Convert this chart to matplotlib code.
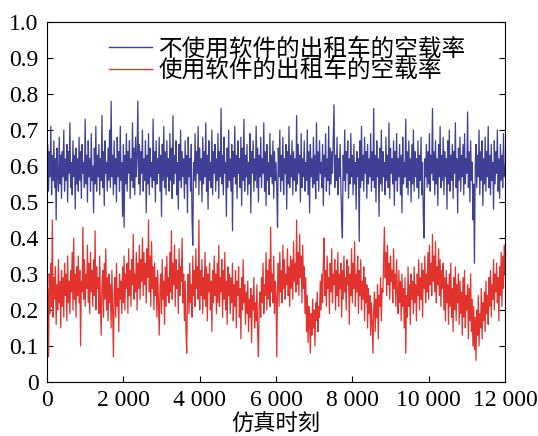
import numpy as np
import matplotlib
matplotlib.use("Agg")
import matplotlib.pyplot as plt

# empty-load rate sampled every 20 simulation steps, 0 .. 12000
no_app = [
0.55,0.66,0.53,0.64,0.57,0.71,0.52,0.63,0.56,0.67,0.54,0.62,0.45,0.65,0.58,0.53,0.68,0.55,0.63,0.51,
0.64,0.57,0.70,0.53,0.62,0.56,0.66,0.50,0.64,0.58,0.72,0.54,0.61,0.52,0.67,0.57,0.63,0.48,0.65,0.55,
0.62,0.53,0.68,0.56,0.64,0.51,0.66,0.58,0.61,0.54,0.73,0.55,0.63,0.50,0.67,0.57,0.62,0.53,0.69,0.56,
0.60,0.47,0.65,0.55,0.71,0.53,0.63,0.57,0.66,0.52,0.62,0.56,0.74,0.54,0.64,0.49,0.67,0.58,0.61,0.53,
0.65,0.56,0.70,0.54,0.78,0.57,0.63,0.52,0.67,0.55,0.62,0.50,0.68,0.57,0.64,0.53,0.71,0.56,0.61,0.46,
0.66,0.43,0.63,0.55,0.69,0.53,0.64,0.58,0.67,0.51,0.62,0.56,0.72,0.54,0.65,0.52,0.68,0.57,0.63,0.78,
0.55,0.66,0.52,0.64,0.58,0.70,0.53,0.62,0.56,0.67,0.47,0.63,0.55,0.69,0.52,0.65,0.57,0.61,0.54,0.73,
0.56,0.64,0.50,0.67,0.55,0.62,0.58,0.68,0.53,0.63,0.46,0.66,0.56,0.71,0.54,0.64,0.52,0.67,0.57,0.62,
0.53,0.69,0.56,0.65,0.51,0.74,0.55,0.63,0.58,0.67,0.52,0.61,0.48,0.66,0.56,0.70,0.54,0.64,0.57,0.62,
0.51,0.67,0.55,0.63,0.47,0.68,0.57,0.62,0.53,0.66,0.45,0.38,0.61,0.56,0.69,0.54,0.64,0.58,0.71,0.52,
0.65,0.56,0.62,0.50,0.68,0.55,0.64,0.57,0.72,0.53,0.63,0.48,0.67,0.56,0.61,0.54,0.70,0.52,0.64,0.58,
0.66,0.53,0.62,0.56,0.69,0.51,0.64,0.57,0.76,0.55,0.63,0.52,0.68,0.58,0.61,0.46,0.65,0.54,0.70,0.56,
0.62,0.53,0.66,0.42,0.64,0.57,0.71,0.55,0.63,0.51,0.67,0.58,0.62,0.54,0.68,0.49,0.65,0.56,0.73,0.53,
0.63,0.57,0.66,0.52,0.61,0.55,0.69,0.47,0.64,0.58,0.67,0.53,0.62,0.56,0.71,0.54,0.65,0.50,0.63,0.57,
0.68,0.54,0.62,0.58,0.72,0.53,0.64,0.49,0.66,0.56,0.61,0.52,0.69,0.57,0.63,0.55,0.67,0.51,0.64,0.56,
0.61,0.54,0.43,0.65,0.57,0.70,0.53,0.63,0.56,0.68,0.52,0.62,0.58,0.66,0.48,0.64,0.55,0.71,0.54,0.63,
0.57,0.67,0.52,0.64,0.56,0.62,0.53,0.74,0.55,0.66,0.58,0.63,0.50,0.69,0.54,0.62,0.57,0.67,0.53,0.61,
0.56,0.70,0.52,0.64,0.47,0.66,0.57,0.62,0.54,0.68,0.55,0.63,0.51,0.72,0.56,0.64,0.53,0.67,0.58,0.61,
0.54,0.66,0.49,0.63,0.57,0.69,0.53,0.62,0.56,0.71,0.52,0.65,0.55,0.64,0.58,0.67,0.77,0.54,0.63,0.56,
0.68,0.52,0.62,0.57,0.66,0.54,0.45,0.40,0.63,0.56,0.70,0.53,0.64,0.58,0.67,0.51,0.62,0.55,0.69,0.57,
0.63,0.52,0.66,0.55,0.61,0.48,0.64,0.57,0.62,0.39,0.67,0.54,0.71,0.56,0.63,0.53,0.68,0.58,0.64,0.51,
0.66,0.55,0.62,0.57,0.69,0.53,0.64,0.56,0.76,0.54,0.63,0.50,0.67,0.57,0.62,0.46,0.65,0.55,0.70,0.53,
0.64,0.57,0.61,0.52,0.68,0.56,0.63,0.54,0.72,0.51,0.65,0.58,0.62,0.55,0.67,0.49,0.64,0.56,0.69,0.53,
0.62,0.57,0.66,0.52,0.63,0.47,0.68,0.55,0.61,0.57,0.73,0.54,0.64,0.52,0.67,0.56,0.62,0.50,0.66,0.55,
0.70,0.53,0.64,0.57,0.62,0.54,0.67,0.51,0.63,0.56,0.68,0.52,0.61,0.46,0.40,0.62,0.57,0.66,0.54,0.64,
0.55,0.69,0.53,0.63,0.58,0.76,0.56,0.64,0.52,0.67,0.55,0.62,0.49,0.66,0.57,0.71,0.54,0.63,0.56,0.68,
0.52,0.64,0.57,0.62,0.48,0.67,0.55,0.70,0.53,0.63,0.56,0.66,0.51,0.64,0.58,0.72,0.54,0.62,0.47,0.65,
0.56,0.68,0.53,0.63,0.57,0.66,0.52,0.69,0.55,0.62,0.58,0.75,0.54,0.64,0.50,0.67,0.56,0.61,0.45,0.55,
0.33,0.60,0.66,0.54,0.63,0.57,0.70,0.52,0.64,0.56,0.67,0.49,0.62,0.55,0.68,0.53,0.64,0.57,0.71,0.54,
0.63,0.52,0.66,0.56,0.61,0.48,0.67,0.55,0.64,0.58,0.70,0.53,0.62,0.51,0.66,0.56,0.63,0.54,0.69,0.57,
0.60]

with_app = [
0.10,0.26,0.07,0.30,0.19,0.33,0.21,0.45,0.18,0.29,0.23,0.32,0.16,0.27,0.20,0.34,0.22,0.28,0.15,0.31,
0.21,0.29,0.18,0.33,0.24,0.30,0.17,0.35,0.22,0.28,0.19,0.31,0.25,0.36,0.20,0.40,0.23,0.30,0.18,0.32,
0.24,0.35,0.22,0.31,0.10,0.28,0.25,0.43,0.23,0.34,0.21,0.30,0.26,0.38,0.22,0.33,0.19,0.36,0.25,0.31,
0.21,0.34,0.24,0.42,0.20,0.32,0.26,0.29,0.19,0.35,0.22,0.13,0.27,0.31,0.18,0.33,0.23,0.37,0.20,0.29,
0.17,0.30,0.22,0.27,0.15,0.31,0.20,0.07,0.25,0.29,0.18,0.33,0.21,0.26,0.14,0.30,0.23,0.28,0.19,0.32,
0.22,0.35,0.20,0.30,0.26,0.33,0.19,0.37,0.24,0.31,0.21,0.34,0.27,0.41,0.23,0.30,0.25,0.36,0.20,0.33,
0.26,0.38,0.23,0.34,0.28,0.40,0.24,0.36,0.27,0.33,0.22,0.37,0.29,0.45,0.25,0.35,0.21,0.39,0.26,0.32,
0.20,0.33,0.24,0.29,0.18,0.31,0.22,0.13,0.26,0.30,0.19,0.34,0.23,0.28,0.16,0.32,0.21,0.35,0.24,0.29,
0.22,0.36,0.25,0.42,0.23,0.33,0.27,0.38,0.21,0.34,0.26,0.31,0.19,0.37,0.24,0.32,0.28,0.40,0.22,0.30,
0.17,0.28,0.15,0.08,0.24,0.30,0.19,0.33,0.22,0.27,0.18,0.35,0.24,0.31,0.21,0.37,0.26,0.32,0.23,0.45,
0.20,0.31,0.24,0.34,0.19,0.29,0.23,0.36,0.21,0.32,0.17,0.30,0.25,0.33,0.20,0.28,0.14,0.31,0.22,0.35,
0.24,0.30,0.19,0.33,0.22,0.38,0.21,0.29,0.25,0.34,0.18,0.31,0.23,0.36,0.20,0.28,0.16,0.32,0.24,0.30,
0.19,0.29,0.22,0.33,0.17,0.27,0.21,0.31,0.15,0.28,0.24,0.32,0.18,0.26,0.12,0.29,0.20,0.34,0.22,0.27,
0.16,0.25,0.19,0.28,0.14,0.23,0.18,0.26,0.11,0.24,0.20,0.29,0.15,0.22,0.17,0.27,0.13,0.07,0.21,0.25,
0.18,0.29,0.22,0.33,0.19,0.27,0.24,0.36,0.20,0.31,0.23,0.34,0.21,0.43,0.25,0.30,0.22,0.35,0.19,0.28,
0.24,0.07,0.27,0.33,0.21,0.36,0.25,0.31,0.22,0.38,0.26,0.34,0.23,0.30,0.27,0.37,0.24,0.32,0.21,0.35,
0.26,0.34,0.23,0.39,0.28,0.33,0.25,0.45,0.27,0.36,0.24,0.41,0.29,0.35,0.22,0.38,0.26,0.32,0.19,0.29,
0.14,0.24,0.11,0.21,0.16,0.08,0.19,0.13,0.23,0.15,0.20,0.10,0.22,0.17,0.25,0.14,0.21,0.18,0.28,0.20,
0.30,0.22,0.33,0.40,0.24,0.31,0.21,0.35,0.26,0.29,0.19,0.33,0.25,0.37,0.22,0.30,0.27,0.34,0.20,0.31,
0.24,0.36,0.21,0.30,0.26,0.33,0.18,0.31,0.23,0.35,0.25,0.29,0.20,0.34,0.27,0.32,0.16,0.30,0.24,0.37,
0.22,0.33,0.26,0.39,0.21,0.30,0.25,0.35,0.19,0.31,0.24,0.34,0.20,0.28,0.23,0.32,0.17,0.29,0.22,0.27,
0.15,0.26,0.19,0.24,0.13,0.22,0.17,0.08,0.20,0.25,0.14,0.23,0.18,0.27,0.12,0.24,0.21,0.29,0.17,0.26,
0.25,0.34,0.43,0.29,0.36,0.24,0.38,0.27,0.33,0.23,0.35,0.28,0.31,0.22,0.37,0.26,0.30,0.21,0.34,0.25,
0.19,0.31,0.22,0.28,0.17,0.30,0.21,0.26,0.15,0.29,0.08,0.24,0.18,0.32,0.21,0.27,0.16,0.30,0.23,0.28,
0.19,0.32,0.22,0.27,0.17,0.30,0.24,0.34,0.20,0.29,0.23,0.33,0.18,0.31,0.26,0.35,0.22,0.30,0.25,0.36,
0.23,0.38,0.27,0.33,0.24,0.41,0.28,0.35,0.25,0.39,0.22,0.32,0.27,0.37,0.24,0.34,0.21,0.31,0.26,0.33,
0.20,0.29,0.17,0.31,0.22,0.27,0.16,0.30,0.21,0.33,0.18,0.26,0.14,0.29,0.20,0.32,0.17,0.27,0.22,0.30,
0.16,0.28,0.19,0.25,0.13,0.29,0.18,0.31,0.15,0.24,0.20,0.27,0.12,0.26,0.17,0.30,0.14,0.23,0.10,0.21,
0.09,0.18,0.06,0.20,0.13,0.24,0.10,0.19,0.15,0.26,0.12,0.22,0.17,0.25,0.14,0.28,0.19,0.24,0.16,0.29,
0.21,0.31,0.18,0.27,0.23,0.34,0.20,0.30,0.25,0.33,0.22,0.29,0.17,0.32,0.24,0.36,0.21,0.35,0.26,0.38,
0.30]

t_end = 12000
labels = ["不使用软件的出租车的空载率", "使用软件的出租车的空载率"]
xticks = [0, 2000, 4000, 6000, 8000, 10000, 12000]
xtick_labels = ["0", "2 000", "4 000", "6 000", "8 000", "10 000", "12 000"]
yticks = [0, 0.1, 0.2, 0.3, 0.4, 0.5, 0.6, 0.7, 0.8, 0.9, 1.0]
ytick_labels = ["0", "0.1", "0.2", "0.3", "0.4", "0.5", "0.6", "0.7", "0.8", "0.9", "1.0"]
xlabel = "仿真时刻"

t_no = np.linspace(0, t_end, len(no_app))
t_with = np.linspace(0, t_end, len(with_app))

plt.rcParams['font.family'] = ['Liberation Serif', 'Noto Sans CJK SC', 'DejaVu Sans']

fig = plt.figure(figsize=(5.38, 4.36), dpi=100)
ax = fig.add_axes([47/538, 1 - 382/436, (505-47)/538, (382-22)/436])

ax.plot(t_no, no_app, color="#3f3f95", lw=0.9, label=labels[0])
ax.plot(t_with, with_app, color="#e2332f", lw=0.9, label=labels[1])

ax.set_xlim(0, t_end)
ax.set_ylim(0, 1.0)
ax.set_xticks(xticks)
ax.set_xticklabels(xtick_labels)
ax.set_yticks(yticks)
ax.set_yticklabels(ytick_labels)
ax.tick_params(direction='in', length=4, width=0.8, labelsize=17, right=True, top=False)
ax.tick_params(axis='y', pad=6)
ax.tick_params(axis='x', pad=6)
for s in ax.spines.values():
    s.set_linewidth(0.8)

ax.set_xlabel(xlabel, fontsize=16, family=['Noto Sans CJK SC', 'DejaVu Sans'], labelpad=1)

leg = ax.legend(loc='upper center', bbox_to_anchor=(0.525, 1.01), frameon=False,
                prop={'family': ['Noto Sans CJK SC', 'DejaVu Sans'], 'size': 17},
                handlelength=1.8, handletextpad=0.3, labelspacing=-0.05, borderpad=0.3)
for h in leg.get_lines():
    h.set_linewidth(1.0)

fig.savefig("out.png", dpi=100)
